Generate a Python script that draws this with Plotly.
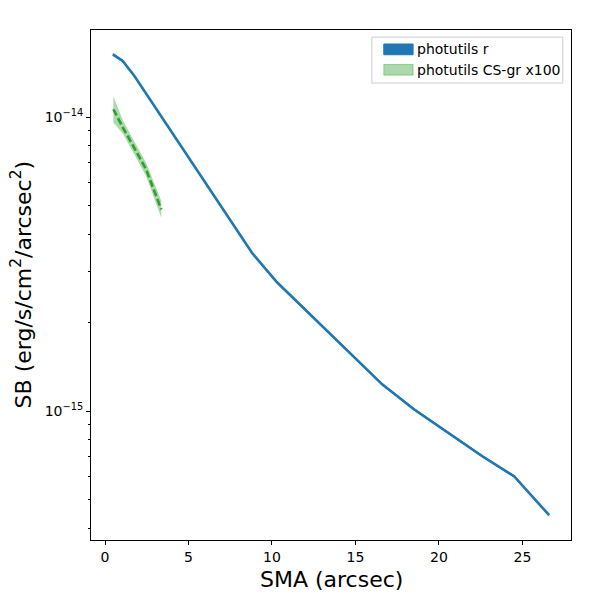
import plotly.graph_objects as go

# surface brightness profile, photutils r band
sma_r = [0.47, 1.06, 1.76, 2.4, 3.2, 4.1, 5.2, 6.3, 7.5, 8.8, 10.3, 12.3,
         14.7, 16.6, 18.5, 20.5, 22.6, 24.5, 26.6]
sb_r = [1.637e-14, 1.554e-14, 1.382e-14, 1.219e-14, 1.042e-14, 8.725e-15,
        7.029e-15, 5.658e-15, 4.467e-15, 3.460e-15, 2.747e-15, 2.126e-15,
        1.568e-15, 1.235e-15, 1.016e-15, 8.48e-16, 7.03e-16, 6.01e-16, 4.43e-16]
sb_r_err = [v * 0.01 for v in sb_r]

# CS-gr profile scaled x100
sma_cs = [0.5, 1.06, 1.8, 2.46, 3.37]
sb_cs = [1.065e-14, 9.25e-15, 7.78e-15, 6.65e-15, 4.86e-15]
sb_cs_hi = [1.18e-14, 9.8e-15, 8.2e-15, 7.0e-15, 5.2e-15]
sb_cs_lo = [9.6e-15, 8.8e-15, 7.4e-15, 6.3e-15, 4.55e-15]

labels = ['photutils r', 'photutils CS-gr x100']

blue = '#1f77b4'
green = '#2ca02c'
green_fill = 'rgba(44,160,44,0.4)'

fig = go.Figure()

# blue band + line
fig.add_trace(go.Scatter(x=sma_r, y=[v + e for v, e in zip(sb_r, sb_r_err)],
                         mode='lines', line=dict(width=0, color=blue),
                         hoverinfo='skip'))
fig.add_trace(go.Scatter(x=sma_r, y=[v - e for v, e in zip(sb_r, sb_r_err)],
                         mode='lines', line=dict(width=0, color=blue),
                         fill='tonexty', fillcolor=blue, name=labels[0]))
fig.add_trace(go.Scatter(x=sma_r, y=sb_r, mode='lines',
                         line=dict(color=blue, width=2.6)))

# green band + dashed line
fig.add_trace(go.Scatter(x=sma_cs, y=sb_cs_hi, mode='lines',
                         line=dict(width=0, color=green), hoverinfo='skip'))
fig.add_trace(go.Scatter(x=sma_cs, y=sb_cs_lo, mode='lines',
                         line=dict(width=0, color=green),
                         fill='tonexty', fillcolor=green_fill, name=labels[1]))
fig.add_trace(go.Scatter(x=sma_cs, y=sb_cs, mode='lines',
                         line=dict(color=green, width=2.6, dash='7px,3px')))

minor_vals = [m * 10 ** p for p in (-16, -15, -14) for m in range(2, 10)]

# legend drawn by hand so the keys are patches like the original
fig.add_shape(type='rect', xref='paper', yref='paper',
              x0=0.585, x1=0.983, y0=0.896, y1=0.986,
              line=dict(color='#cccccc', width=1), fillcolor='rgba(255,255,255,0.8)')
for i, (lab, col) in enumerate(zip(labels, [blue, green_fill])):
    yc = 0.962 - i * 0.040
    fig.add_shape(type='rect', xref='paper', yref='paper',
                  x0=0.610, x1=0.671, y0=yc - 0.0105, y1=yc + 0.0105,
                  line=dict(color=col, width=1), fillcolor=col)
    fig.add_annotation(x=0.675, y=yc, xref='paper', yref='paper',
                       text=lab, showarrow=False, xanchor='left', yanchor='middle',
                       font=dict(size=14))

# axis titles
fig.add_annotation(x=0.5, y=-0.078, xref='paper', yref='paper',
                   text='SMA (arcsec)', showarrow=False,
                   xanchor='center', yanchor='middle', font=dict(size=22))
fig.add_annotation(x=-0.145, y=0.5, xref='paper', yref='paper',
                   text='SB (erg/s/cm<sup>2</sup>/arcsec<sup>2</sup>)',
                   showarrow=False, textangle=-90,
                   xanchor='center', yanchor='middle', font=dict(size=22))

# page body adds an 8px offset, so the figure is 8px smaller with margins moved in
fig.update_layout(
    width=592, height=592,
    margin=dict(l=83, r=29, t=22, b=60),
    plot_bgcolor='white', paper_bgcolor='white',
    font=dict(family='DejaVu Sans', color='black', size=14),
    showlegend=False,
    xaxis=dict(
        range=[-0.84, 27.91], tickvals=[0, 5, 10, 15, 20, 25],
        ticks='outside', ticklen=4, tickcolor='black',
        showline=True, linecolor='black', linewidth=1, mirror=True,
        showgrid=False, zeroline=False, automargin=False,
    ),
    yaxis=dict(
        type='log', range=[-15.438, -13.703],
        tickvals=[1e-15, 1e-14],
        ticktext=['10<sup>\u221215</sup>', '10<sup>\u221214</sup>'],
        ticks='outside', ticklen=4, tickcolor='black',
        minor=dict(tickvals=minor_vals, ticks='outside', ticklen=2,
                   tickcolor='black', showgrid=False),
        showline=True, linecolor='black', linewidth=1, mirror=True,
        showgrid=False, zeroline=False, automargin=False,
    ),
)

fig.write_html('out.html')
